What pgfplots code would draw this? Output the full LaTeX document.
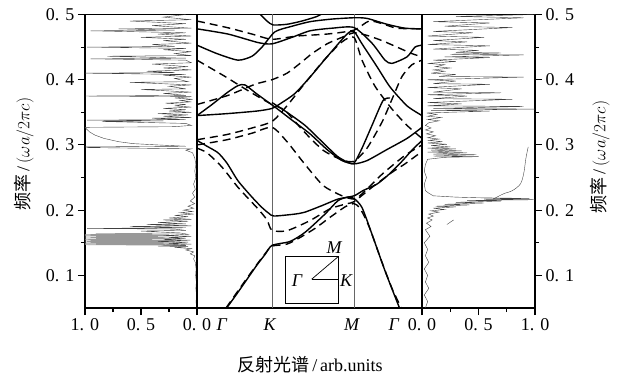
\documentclass[border=0pt]{standalone}
\usepackage{pgfplots}
\pgfplotsset{compat=1.18}
\usepackage{fontspec}
\setmainfont{Liberation Serif}
\newfontfamily\cjk{Noto Sans CJK SC}

\begin{document}
\begin{tikzpicture}
\useasboundingbox (0bp,0bp) rectangle (619bp,383bp);
\pgfplotsset{
  panel/.style={scale only axis, height=293.5bp, ymin=0.05, ymax=0.5,
    anchor=south west, axis line style={line width=1.5bp},
    tick style={line width=1.1bp, black}, major tick length=7bp, minor tick length=4bp,
    tick align=outside, tick label style={font=\fontsize{18bp}{21bp}\selectfont},
    clip=true},
  spec/.style={line width=0.4bp, black!75},
  sol/.style={black, line width=1.4bp, smooth, tension=0.4},
  das/.style={black, line width=1.4bp, dash pattern=on 8bp off 5bp, smooth, tension=0.4},
}
% ---------------- left spectrum ----------------
\begin{axis}[panel, at={(85bp,75bp)}, width=112bp, xmin=0, xmax=1, x dir=reverse,
  xtick={0,0.5,1}, xticklabels={0. 0,0. 5,1. 0}, minor xtick={0.25,0.75},
  ytick={0.1,0.2,0.3,0.4,0.5}, yticklabels={0. 1,0. 2,0. 3,0. 4,0. 5},
  minor ytick={0.15,0.25,0.35,0.45}, xtick pos=left, ytick pos=left]
\addplot[spec] table[x=R,y=f] {
f R
0.050 0.005
0.060 0.008
0.070 0.004
0.080 0.010
0.090 0.006
0.100 0.012
0.110 0.008
0.120 0.015
0.125 0.030
0.130 0.020
0.133 0.060
0.136 0.030
0.139 0.100
0.141 0.050
0.143 0.200
0.144 0.080
0.145 0.350
0.146 0.100
};
\addplot[line width=0.5bp, black!40] table[x=R,y=f] {
f R
0.146 0.100
0.147 1.000
0.1475 0.200
0.148 0.900
0.1485 0.150
0.149 1.000
0.1495 0.300
0.150 0.950
0.1505 0.200
0.151 1.000
0.1515 0.250
0.152 0.980
0.1525 0.300
0.153 1.000
0.1535 0.200
0.154 0.950
0.1545 0.300
0.155 1.000
0.1555 0.400
0.156 0.900
0.1565 0.150
0.157 1.000
0.1575 0.300
0.158 0.950
0.1585 0.250
0.159 1.000
0.1595 0.350
0.160 0.900
0.1605 0.200
0.161 1.000
0.1615 0.300
0.162 0.950
0.1625 0.250
0.163 1.000
0.1635 0.400
0.164 0.900
0.165 0.150
};
\addplot[spec] table[x=R,y=f] {
f R
0.146 0.100
0.1465 0.300
0.148 0.050
0.149 0.250
0.151 0.080
0.152 0.350
0.154 0.060
0.155 0.300
0.157 0.100
0.158 0.250
0.160 0.050
0.161 0.300
0.163 0.080
0.165 0.150
0.168 0.500
0.169 0.100
0.171 0.200
0.172 0.980
0.173 0.100
0.175 0.600
0.176 0.050
0.178 0.450
0.179 0.100
0.181 0.350
0.183 0.080
0.185 0.300
0.186 0.050
0.188 0.250
0.190 0.080
0.192 0.200
0.194 0.030
0.196 0.150
0.198 0.040
0.200 0.120
0.203 0.030
0.206 0.080
0.210 0.020
0.214 0.060
0.220 0.020
0.226 0.040
0.232 0.015
0.240 0.030
0.250 0.010
0.260 0.020
0.270 0.010
0.280 0.020
0.288 0.040
0.292 0.100
0.294 0.050
0.296 0.970
0.297 1.000
0.298 0.100
0.300 0.350
0.302 0.570
0.305 0.700
0.310 0.830
0.315 0.910
0.320 0.960
0.325 0.990
0.327 1.000
0.328 0.200
0.330 0.050
0.333 0.100
0.336 0.850
0.337 0.300
0.338 0.980
0.339 0.100
0.341 0.400
0.342 0.050
0.344 0.300
0.346 0.080
0.348 0.350
0.350 0.050
0.352 0.250
0.354 0.100
0.356 0.300
0.358 0.050
0.360 0.200
0.362 0.100
0.364 0.280
0.366 0.050
0.368 0.150
0.370 0.040
0.372 0.200
0.374 0.050
0.375 1.000
0.376 0.100
0.379 0.300
0.381 0.050
0.385 0.500
0.386 0.100
0.390 0.250
0.392 0.050
0.396 0.600
0.397 0.080
0.402 0.200
0.404 0.050
0.407 0.300
0.408 0.100
0.410 1.000
0.411 0.200
0.413 0.450
0.415 0.050
0.418 0.300
0.420 0.080
0.424 0.400
0.426 0.050
0.430 0.100
0.432 0.950
0.433 0.100
0.436 0.800
0.437 0.050
0.440 0.200
0.443 0.050
0.446 0.300
0.448 0.100
0.450 0.980
0.451 0.200
0.454 0.400
0.456 0.050
0.460 0.300
0.462 0.100
0.465 0.500
0.467 0.050
0.470 0.350
0.472 0.100
0.475 0.950
0.476 0.200
0.478 0.700
0.479 0.050
0.483 0.400
0.486 0.100
0.490 0.600
0.492 0.050
0.496 0.300
0.500 0.100
};
\end{axis}
% ---------------- band structure ----------------
\begin{axis}[panel, at={(197bp,75bp)}, width=225bp, xmin=0, xmax=225,
  xtick={25,73,155,197},
  xticklabels={\textit{Γ},\textit{K},\textit{M},\textit{Γ}},
  xtick style={draw=none}, ytick=\empty, xtick pos=left,
  extra x ticks={75,157}, extra x tick labels={},
  extra x tick style={grid=major, tick style={draw=none}, grid style={black!60, line width=0.7bp}}]
% solid bands
\addplot[sol] coordinates {(29.7,0.05) (40,0.072) (50,0.094) (60,0.116) (68,0.132) (75,0.146) (93,0.152) (108,0.166) (128,0.194) (141,0.2146) (151,0.22) (157,0.218) (165,0.204) (175,0.163) (188,0.107) (203,0.048)};
\addplot[sol] coordinates {(0,0.307) (10,0.298) (21,0.288) (30,0.272) (41,0.245) (55,0.22) (65,0.204) (72,0.195) (77,0.191) (98,0.194) (108,0.197) (125,0.207) (141,0.217) (157,0.222) (166,0.23) (180,0.24) (192,0.255) (205,0.275) (215,0.292) (225,0.307)};
\addplot[sol] coordinates {(0,0.345) (15,0.362) (30,0.38) (41,0.391) (48,0.392) (60,0.378) (78,0.358) (95,0.338) (113,0.317) (130,0.293) (145,0.276) (157,0.271) (170,0.276) (190,0.293) (210,0.31) (225,0.327)};
\addplot[sol] coordinates {(0,0.345) (30,0.348) (60,0.352) (75,0.356) (85,0.365) (98,0.379) (113,0.404) (130,0.435) (150,0.47) (157,0.474) (165,0.455) (180,0.42) (193,0.389) (210,0.36) (225,0.345)};
\addplot[sol] coordinates {(75,0.365) (90,0.35) (108,0.33) (125,0.305) (140,0.283) (150,0.274) (157,0.272) (165,0.295) (175,0.33) (186,0.368) (193,0.372)};
\addplot[sol] coordinates {(0,0.478) (31,0.47) (61,0.457) (75,0.455) (95,0.465) (113,0.475) (135,0.479) (157,0.48) (175,0.456) (188,0.43) (195,0.425) (210,0.435) (218,0.45) (225,0.453)};
\addplot[sol] coordinates {(0,0.453) (20,0.44) (41,0.43) (55,0.436) (65,0.45) (78,0.4735) (95,0.482) (113,0.489) (135,0.493) (157,0.495) (170,0.494) (190,0.485) (208,0.479) (225,0.478)};
\addplot[sol] coordinates {(62,0.502) (70,0.49) (76,0.484) (90,0.485) (105,0.49) (120,0.497) (126,0.502)};
% dashed bands
\addplot[das] coordinates {(29,0.05) (45,0.085) (60,0.117) (70,0.137) (75,0.145) (90,0.148) (103,0.158) (118,0.172) (133,0.189) (148,0.205) (157,0.21) (163,0.203) (172,0.175) (185,0.12) (195,0.08) (205,0.048)};
\addplot[das] coordinates {(0,0.295) (10,0.288) (25,0.266) (41,0.235) (61,0.202) (70,0.185) (75,0.169) (90,0.1685) (113,0.184) (133,0.202) (150,0.21) (157,0.213) (175,0.235) (195,0.258) (208,0.271) (225,0.29)};
\addplot[das] coordinates {(0,0.300) (30,0.308) (55,0.318) (75,0.327) (90,0.305) (106,0.274) (126,0.238) (145,0.222) (157,0.217) (165,0.225) (185,0.255) (208,0.284) (225,0.300)};
\addplot[das] coordinates {(0,0.308) (30,0.316) (55,0.326) (75,0.336) (90,0.36) (105,0.389) (127,0.43) (145,0.458) (157,0.465) (165,0.43) (178,0.39) (195,0.355) (210,0.33) (225,0.31)};
\addplot[das] coordinates {(0,0.43) (28,0.405) (48,0.386) (60,0.375) (75,0.362) (88,0.353) (106,0.322) (126,0.292) (145,0.277) (157,0.275) (170,0.295) (185,0.335) (195,0.37) (205,0.405) (215,0.423) (225,0.43)};
\addplot[das] coordinates {(0,0.362) (31,0.376) (58,0.393) (75,0.40) (90,0.41) (103,0.425) (115,0.44) (130,0.455) (145,0.465) (157,0.472) (170,0.468) (185,0.46) (200,0.45) (215,0.44) (225,0.435)};
\addplot[das] coordinates {(0,0.49) (30,0.48) (55,0.47) (75,0.462) (100,0.467) (130,0.47) (157,0.476) (172,0.49) (185,0.486) (200,0.479) (225,0.478)};
% Brillouin zone inset
\draw[black, line width=0.9bp] (axis cs:88,0.0577) rectangle (axis cs:141,0.1285);
\draw[black, line width=0.7bp] (axis cs:114.7,0.0942) -- (axis cs:141,0.0942);
\draw[black, line width=0.7bp] (axis cs:114.7,0.0942) -- (axis cs:141,0.1285);
\node[font=\fontsize{18bp}{21bp}\selectfont\itshape] at (axis cs:137,0.143) {M};
\node[font=\fontsize{18bp}{21bp}\selectfont\itshape] at (axis cs:149,0.0915) {K};
\node[font=\fontsize{18bp}{21bp}\selectfont\itshape] at (axis cs:100,0.0915) {Γ};
\end{axis}
% ---------------- right spectrum ----------------
\begin{axis}[panel, at={(422bp,75bp)}, width=113bp, xmin=0, xmax=1,
  xtick={0,0.5,1}, xticklabels={0. 0,0. 5,1. 0}, minor xtick={0.25,0.75},
  ytick={0.1,0.2,0.3,0.4,0.5}, yticklabels={0. 1,0. 2,0. 3,0. 4,0. 5},
  minor ytick={0.15,0.25,0.35,0.45}, xtick pos=left, ytick pos=right, yticklabel pos=right]
\addplot[spec] table[x=R,y=f] {
f R
0.050 0.030
0.060 0.050
0.070 0.020
0.080 0.060
0.090 0.030
0.100 0.050
0.110 0.020
0.120 0.060
0.130 0.030
0.140 0.050
0.150 0.020
0.160 0.070
0.170 0.030
0.175 0.080
0.180 0.040
0.185 0.090
0.188 0.050
0.191 0.100
0.194 0.060
0.197 0.150
0.199 0.080
0.201 0.200
0.203 0.100
0.205 0.300
0.206 0.120
0.208 0.420
0.209 0.200
0.211 0.550
0.212 0.300
0.214 0.700
0.215 0.400
0.216 1.000
0.217 0.550
0.218 0.950
0.219 0.500
0.220 0.300
0.222 0.100
0.226 0.060
0.230 0.030
0.240 0.020
0.250 0.040
0.260 0.020
0.270 0.030
0.278 0.050
0.281 0.200
0.282 0.500
0.283 0.100
0.285 0.480
0.286 0.100
0.288 0.400
0.289 0.050
0.291 0.350
0.292 0.080
0.294 0.300
0.295 0.050
0.297 0.250
0.299 0.080
0.301 0.220
0.303 0.050
0.305 0.180
0.307 0.060
0.309 0.150
0.311 0.050
0.314 0.120
0.317 0.040
0.320 0.100
0.323 0.030
0.326 0.080
0.330 0.030
0.334 0.060
0.337 0.150
0.339 0.050
0.342 0.170
0.344 0.050
0.347 0.130
0.349 0.040
0.352 0.600
0.353 0.080
0.355 1.000
0.356 0.100
0.359 0.900
0.360 0.050
0.363 0.350
0.365 0.050
0.370 0.800
0.371 0.100
0.375 0.400
0.377 0.050
0.380 0.700
0.381 0.100
0.386 0.350
0.388 0.050
0.393 0.600
0.394 0.100
0.398 0.300
0.400 0.050
0.404 0.900
0.405 0.150
0.408 0.300
0.410 0.080
0.413 0.200
0.415 0.100
0.418 0.250
0.420 0.120
0.423 0.200
0.425 0.050
0.428 0.300
0.430 0.100
0.434 0.600
0.435 0.200
0.438 0.900
0.439 0.250
0.441 0.700
0.442 0.300
0.445 0.500
0.447 0.100
0.452 0.600
0.454 0.050
0.458 0.400
0.460 0.100
0.465 0.550
0.467 0.050
0.472 0.450
0.474 0.100
0.480 0.800
0.482 0.200
0.487 0.600
0.489 0.100
0.495 0.900
0.497 0.300
0.500 1.000
};
\addplot[spec, smooth] coordinates {(0.63,0.217) (0.72,0.225) (0.80,0.230) (0.87,0.240) (0.90,0.256) (0.92,0.280) (0.94,0.297)};
\addplot[spec] coordinates {(0.22,0.178) (0.28,0.185)};
\end{axis}
% ---------------- labels ----------------
\node[rotate=90, font=\fontsize{18bp}{21bp}\selectfont] at (24bp,229bp) {{\cjk 频率}\,/\,$(\omega a/2\pi c)$};
\node[rotate=90, font=\fontsize{18bp}{21bp}\selectfont] at (600bp,226bp) {{\cjk 频率}\,/\,$(\omega a/2\pi c)$};
\node[font=\fontsize{18bp}{21bp}\selectfont] at (310bp,18bp) {{\cjk 反射光谱}\,/\,arb.units};
\end{tikzpicture}
\end{document}
